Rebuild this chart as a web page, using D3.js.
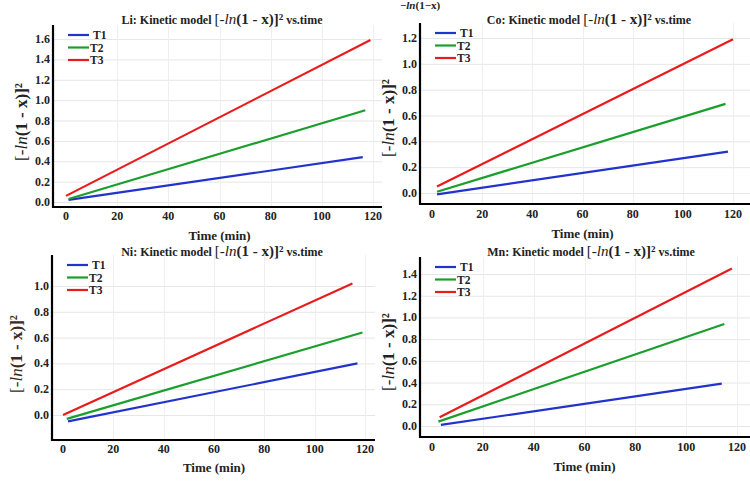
<!DOCTYPE html>
<html>
<head>
<meta charset="utf-8">
<script src="https://cdn.jsdelivr.net/npm/d3@7"></script>
<style>
  html, body { margin: 0; padding: 0; background: #fff; }
</style>
</head>
<body>
<svg id="chart" width="750" height="484" font-family="'Liberation Serif', 'DejaVu Serif', serif"></svg>
<script>
// ---------------- DATA ----------------
const panelNames = ["Li", "Co", "Ni", "Mn"];
const seriesNames = ["T1", "T2", "T3"];
const seriesColors = ["#2233cc", "#1a9e2c", "#e81c1c"];
const xTicks = [0, 20, 40, 60, 80, 100, 120];

const liYTicks = [0.0, 0.2, 0.4, 0.6, 0.8, 1.0, 1.2, 1.4, 1.6];
const coYTicks = [0.0, 0.2, 0.4, 0.6, 0.8, 1.0, 1.2];
const niYTicks = [0.0, 0.2, 0.4, 0.6, 0.8, 1.0];
const mnYTicks = [0.0, 0.2, 0.4, 0.6, 0.8, 1.0, 1.2, 1.4];

// [time (min), value] at the start and end of each fitted line
const liT1 = [[1, 0.02], [116, 0.44]];
const liT2 = [[1, 0.03], [117, 0.90]];
const liT3 = [[0, 0.06], [119, 1.59]];
const coT1 = [[2, -0.01], [118, 0.32]];
const coT2 = [[2, 0.01], [117, 0.69]];
const coT3 = [[2, 0.05], [120, 1.19]];
const niT1 = [[2, -0.05], [117, 0.40]];
const niT2 = [[1.5, -0.03], [119, 0.64]];
const niT3 = [[0, 0.0], [115, 1.02]];
const mnT1 = [[3.5, 0.01], [114, 0.39]];
const mnT2 = [[2.5, 0.04], [115, 0.94]];
const mnT3 = [[3, 0.08], [118, 1.45]];

// ---------------- LAYOUT ----------------
const layouts = [
  { name: "Li", series: [liT1, liT2, liT3], yTicks: liYTicks, yMax: 1.6,
    x0: 66, x120: 373, y0: 202, yTop: 39, axL: 53, axB: 207, axT: 25, axR: 382,
    titleX: 222, titleY: 24, ylabX: 27, ylabY: 122, xlabY: 240, xtickY: 220, ylabColor: "#222" },
  { name: "Co", series: [coT1, coT2, coT3], yTicks: coYTicks, yMax: 1.2,
    x0: 432, x120: 733, y0: 193, yTop: 38, axL: 420, axB: 204, axT: 23, axR: 750,
    titleX: 589, titleY: 24, ylabX: 394, ylabY: 118, xlabY: 238, xtickY: 218, ylabColor: "#222" },
  { name: "Ni", series: [niT1, niT2, niT3], yTicks: niYTicks, yMax: 1.0,
    x0: 63, x120: 365, y0: 415, yTop: 286, axL: 52, axB: 440, axT: 255, axR: 375,
    titleX: 222, titleY: 256, ylabX: 22, ylabY: 354, xlabY: 472, xtickY: 453, ylabColor: "#3a2a20" },
  { name: "Mn", series: [mnT1, mnT2, mnT3], yTicks: mnYTicks, yMax: 1.4,
    x0: 432, x120: 737, y0: 426, yTop: 274, axL: 420, axB: 437, axT: 257, axR: 750,
    titleX: 591, titleY: 256, ylabX: 394, ylabY: 352, xlabY: 471, xtickY: 451, ylabColor: "#222" }
];

const svg = d3.select("#chart");

// stray label at top
svg.append("text").attr("x", 400).attr("y", 9)
  .attr("font-size", 11).attr("font-weight", "bold").attr("fill", "#222")
  .html('−<tspan font-style="italic">ln</tspan>(1−x)');

function addFormula(sel, big) {
  sel.append("tspan").attr("font-size", big).attr("font-weight", "normal").text("[-");
  sel.append("tspan").attr("font-size", big).attr("font-style", "italic").attr("font-weight", "normal").text("ln");
  sel.append("tspan").attr("font-size", big).attr("font-weight", "bold").text("(1 - x)]²");
}

layouts.forEach(L => {
  const g = svg.append("g");
  const x = d3.scaleLinear().domain([0, 120]).range([L.x0, L.x120]);
  const y = d3.scaleLinear().domain([0, L.yMax]).range([L.y0, L.yTop]);

  // gridlines
  g.selectAll(".hg").data(L.yTicks).enter().append("line")
    .attr("x1", L.axL).attr("x2", L.axR)
    .attr("y1", d => y(d) + 0.5).attr("y2", d => y(d) + 0.5)
    .attr("stroke", "#e6e6e6").attr("stroke-width", 1);
  g.selectAll(".vg").data(xTicks.slice(1)).enter().append("line")
    .attr("x1", d => Math.round(x(d)) + 0.5).attr("x2", d => Math.round(x(d)) + 0.5)
    .attr("y1", L.axT).attr("y2", L.axB)
    .attr("stroke", "#efefef").attr("stroke-width", 1);

  // axes lines
  g.append("line").attr("x1", L.axL).attr("x2", L.axL).attr("y1", L.axT).attr("y2", L.axB + 1)
    .attr("stroke", "#000").attr("stroke-width", 2.2);
  g.append("line").attr("x1", L.axL - 1).attr("x2", L.axR).attr("y1", L.axB).attr("y2", L.axB)
    .attr("stroke", "#000").attr("stroke-width", 2.2);

  // y tick labels
  g.selectAll(".yt").data(L.yTicks).enter().append("text")
    .attr("x", L.axL - 3).attr("y", d => y(d) + 4)
    .attr("text-anchor", "end").attr("font-size", 12).attr("font-weight", "bold").attr("fill", "#222")
    .text(d => d3.format(".1f")(d));

  // x tick labels
  g.selectAll(".xt").data(xTicks).enter().append("text")
    .attr("x", d => x(d)).attr("y", L.xtickY)
    .attr("text-anchor", "middle").attr("font-size", 12).attr("font-weight", "bold").attr("fill", "#222")
    .text(d => d);

  // series lines
  const line = d3.line().x(d => x(d[0])).y(d => y(d[1]));
  L.series.forEach((s, i) => {
    g.append("path").datum(s).attr("d", line)
      .attr("fill", "none").attr("stroke", seriesColors[i]).attr("stroke-width", 2.2);
  });

  // legend
  const lx = L.axL + 15, ly = L.axT + 10;
  seriesNames.forEach((n, i) => {
    g.append("line").attr("x1", lx).attr("x2", lx + 21)
      .attr("y1", ly + i * 12.5).attr("y2", ly + i * 12.5)
      .attr("stroke", seriesColors[i]).attr("stroke-width", 2.2);
    g.append("text").attr("x", lx + 22 + (i === 0 ? 3 : 0)).attr("y", ly + i * 12.5 + 4)
      .attr("font-size", 11.5).attr("font-weight", "bold").attr("fill", "#222").text(n);
  });

  // title
  const t = g.append("text").attr("x", L.titleX).attr("y", L.titleY)
    .attr("text-anchor", "middle").attr("font-weight", "bold").attr("fill", "#222");
  t.append("tspan").attr("font-size", 12).text(L.name + ": Kinetic model ");
  addFormula(t, 15);
  t.append("tspan").attr("font-size", 12).text(" vs.time");

  // y axis label
  const yl = g.append("text")
    .attr("transform", `translate(${L.ylabX},${L.ylabY}) rotate(-90)`)
    .attr("text-anchor", "middle").attr("fill", L.ylabColor).attr("font-weight", "bold");
  addFormula(yl, 17);

  // x axis label
  g.append("text").attr("x", (L.x0 + L.x120) / 2).attr("y", L.xlabY)
    .attr("text-anchor", "middle").attr("font-size", 13).attr("font-weight", "bold").attr("fill", "#222")
    .text("Time (min)");
});
</script>
</body>
</html>
